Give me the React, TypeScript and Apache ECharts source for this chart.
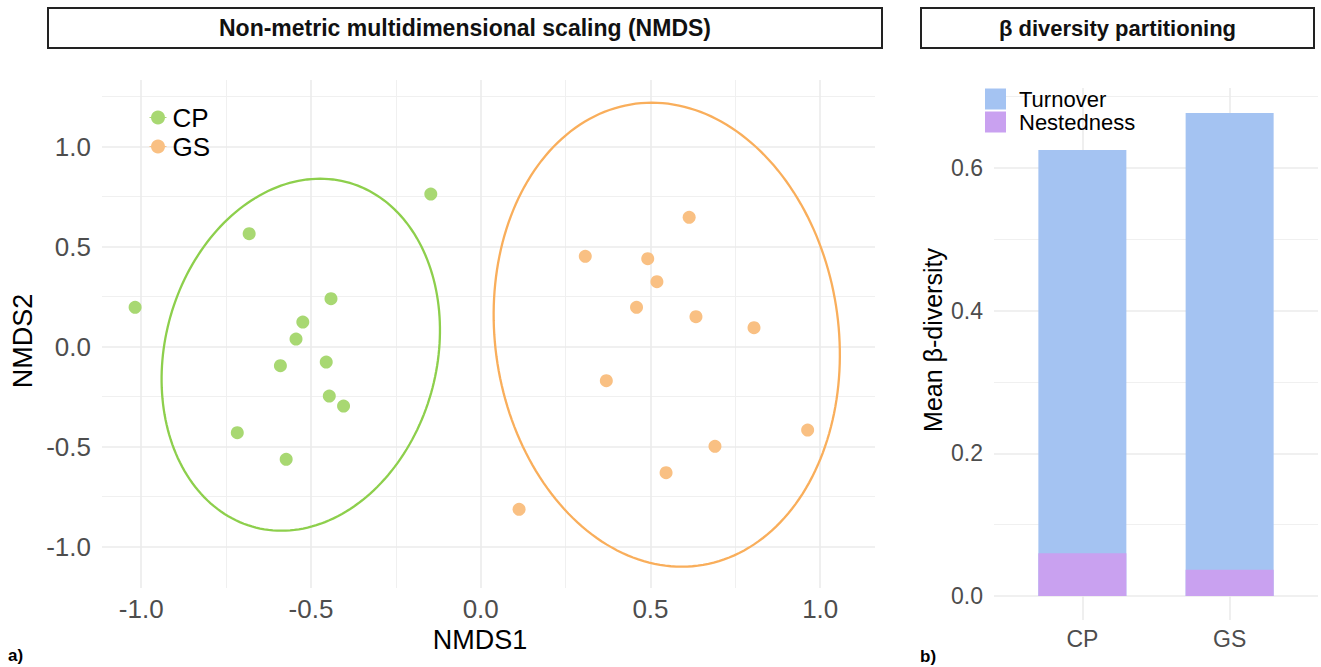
import React, { useEffect, useRef } from 'react';
import * as echarts from 'echarts';

// ---------- NMDS data ----------
const cpPoints: [number, number][] = [
  [-1.018, 0.197], [-0.682, 0.565], [-0.147, 0.763], [-0.441, 0.24],
  [-0.524, 0.123], [-0.544, 0.038], [-0.59, -0.095], [-0.455, -0.077],
  [-0.446, -0.247], [-0.404, -0.297], [-0.717, -0.43], [-0.573, -0.563],
];
const gsPoints: [number, number][] = [
  [0.614, 0.647], [0.308, 0.452], [0.492, 0.44], [0.519, 0.325],
  [0.459, 0.197], [0.634, 0.15], [0.805, 0.095], [0.37, -0.17],
  [0.963, -0.417], [0.69, -0.498], [0.546, -0.63], [0.113, -0.813],
];
// ellipse: centre x, centre y, conjugate semi-diameter A (x, y), B (x, y)
const cpEllipse = [-0.53, -0.04, 0.406, 0, 0.057, 0.88];
const gsEllipse = [0.548, 0.06, 0.508, 0, -0.044, 1.16];

const nmdsMajorTicks = [-1, -0.5, 0, 0.5, 1];
const nmdsMinorX = [-0.75, -0.25, 0.25, 0.75];
const nmdsMinorY = [-0.75, -0.25, 0.25, 0.75, 1.25];

// ---------- beta diversity data ----------
const betaGroups = ['CP', 'GS'];
const turnover = [0.565, 0.64];
const nestedness = [0.06, 0.037];
const betaMajorTicks = [0, 0.2, 0.4, 0.6];
const betaMinorTicks = [0.1, 0.3, 0.5, 0.7];
const betaXTicks = [1, 2];

const FONT = "'Liberation Sans', Arial, sans-serif";
const GREEN_PT = '#A8D872';
const GREEN_LN = '#8DCF4C';
const ORANGE_PT = '#F9C083';
const ORANGE_LN = '#F9AE5B';
const BLUE = '#A4C3F2';
const PURPLE = '#C9A1F0';
const GRID_MAJOR = { color: '#EBEBEB', width: 1.6, type: 'solid' as const };
const GRID_MINOR = { color: '#F0F0F0', width: 1.1, type: 'solid' as const };

function gridLines(xs: number[], ys: number[], style: any) {
  return [
    ...xs.map((v) => ({ xAxis: v, lineStyle: style })),
    ...ys.map((v) => ({ yAxis: v, lineStyle: style })),
  ];
}

function ellipseRender(color: string) {
  return (params: any, api: any) => {
    const cx = api.value(0), cy = api.value(1);
    const ax = api.value(2), ay = api.value(3);
    const bx = api.value(4), by = api.value(5);
    const c = api.coord([cx, cy]);
    const pa = api.coord([cx + ax, cy + ay]);
    const pb = api.coord([cx + bx, cy + by]);
    const ux = pa[0] - c[0], uy = pa[1] - c[1];
    const vx = pb[0] - c[0], vy = pb[1] - c[1];
    const pts: number[][] = [];
    const n = 200;
    for (let i = 0; i < n; i++) {
      const t = (i / n) * Math.PI * 2;
      pts.push([
        c[0] + ux * Math.cos(t) + vx * Math.sin(t),
        c[1] + uy * Math.cos(t) + vy * Math.sin(t),
      ]);
    }
    return {
      type: 'polygon',
      shape: { points: pts },
      style: { fill: 'none', stroke: color, lineWidth: 2.3 },
    };
  };
}

const legendIcon = 'path://M0,6.4H17V7.6H0Z M8.5,0A7,7 0 1 1 8.49,0Z';

export default function App() {
  const ref = useRef<HTMLDivElement>(null);

  useEffect(() => {
    document.body.style.margin = '0';
    const chart = echarts.init(ref.current!, undefined, { renderer: 'svg' });
    const totals = turnover.map((v, i) => v + nestedness[i]);
    const option: any = {
      animation: false,
      backgroundColor: '#ffffff',
      textStyle: { fontFamily: FONT },
      grid: [
        { left: 102, top: 80, width: 773, height: 508 },
        { left: 994, top: 88, width: 324, height: 532 },
      ],
      xAxis: [
        {
          type: 'value', gridIndex: 0, min: -1.1155, max: 1.1614,
          axisLine: { show: false }, axisTick: { show: false }, splitLine: { show: false },
          axisLabel: {
            customValues: nmdsMajorTicks, formatter: (v: number) => v.toFixed(1),
            color: '#4D4D4D', fontSize: 26, margin: 8, fontFamily: FONT,
          },
        },
        {
          type: 'value', gridIndex: 1, min: 0.4, max: 2.6,
          axisLine: { show: false }, axisTick: { show: false }, splitLine: { show: false },
          axisLabel: {
            customValues: betaXTicks, formatter: (v: number) => betaGroups[Math.round(v) - 1] || '',
            color: '#4D4D4D', fontSize: 23, margin: 7, fontFamily: FONT,
          },
        },
      ],
      yAxis: [
        {
          type: 'value', gridIndex: 0, min: -1.2065, max: 1.3335,
          axisLine: { show: false }, axisTick: { show: false }, splitLine: { show: false },
          axisLabel: {
            customValues: nmdsMajorTicks, formatter: (v: number) => v.toFixed(1),
            color: '#4D4D4D', fontSize: 26, margin: 11, fontFamily: FONT,
          },
        },
        {
          type: 'value', gridIndex: 1, min: -0.0336, max: 0.712,
          axisLine: { show: false }, axisTick: { show: false }, splitLine: { show: false },
          axisLabel: {
            customValues: betaMajorTicks, formatter: (v: number) => v.toFixed(1),
            color: '#4D4D4D', fontSize: 23, margin: 11, fontFamily: FONT,
          },
        },
      ],
      legend: [
        {
          orient: 'vertical', left: 144.5, top: 99, itemWidth: 17, itemHeight: 14, itemGap: 2,
          data: [
            { name: 'CP', icon: legendIcon, itemStyle: { color: GREEN_PT } },
            { name: 'GS', icon: legendIcon, itemStyle: { color: ORANGE_PT } },
          ],
          textStyle: { fontSize: 26, lineHeight: 27, color: '#000', fontFamily: FONT, padding: [0, 0, 0, 1] },
          selectedMode: false,
        },
        {
          orient: 'vertical', left: 980, top: 83, itemWidth: 21, itemHeight: 21, itemGap: 1,
          data: [
            { name: 'Turnover', icon: 'rect', itemStyle: { color: BLUE } },
            { name: 'Nestedness', icon: 'rect', itemStyle: { color: PURPLE } },
          ],
          textStyle: { fontSize: 22, lineHeight: 22, color: '#000', fontFamily: FONT, padding: [0, 0, 0, 8] },
          selectedMode: false,
        },
      ],
      series: [
        {
          type: 'scatter', name: 'grid-nmds', xAxisIndex: 0, yAxisIndex: 0, data: [], z: 0,
          silent: true,
          markLine: {
            silent: true, z: 0, symbol: ['none', 'none'], label: { show: false }, animation: false,
            data: [
              ...gridLines(nmdsMinorX, nmdsMinorY, GRID_MINOR),
              ...gridLines(nmdsMajorTicks, nmdsMajorTicks, GRID_MAJOR),
            ],
          },
        },
        {
          type: 'scatter', name: 'grid-beta', xAxisIndex: 1, yAxisIndex: 1, data: [], z: 0,
          silent: true,
          markLine: {
            silent: true, z: 0, symbol: ['none', 'none'], label: { show: false }, animation: false,
            data: [
              ...gridLines([], betaMinorTicks, GRID_MINOR),
              ...gridLines(betaXTicks, betaMajorTicks, GRID_MAJOR),
            ],
          },
        },
        {
          type: 'scatter', name: 'CP', xAxisIndex: 0, yAxisIndex: 0, data: cpPoints,
          symbolSize: 13, itemStyle: { color: GREEN_PT, opacity: 1 }, z: 3,
        },
        {
          type: 'scatter', name: 'GS', xAxisIndex: 0, yAxisIndex: 0, data: gsPoints,
          symbolSize: 13, itemStyle: { color: ORANGE_PT, opacity: 1 }, z: 3,
        },
        {
          type: 'custom', name: 'CP', xAxisIndex: 0, yAxisIndex: 0, data: [cpEllipse],
          encode: { x: 0, y: 1 }, renderItem: ellipseRender(GREEN_LN), z: 2, silent: true,
          itemStyle: { color: GREEN_LN },
        },
        {
          type: 'custom', name: 'GS', xAxisIndex: 0, yAxisIndex: 0, data: [gsEllipse],
          encode: { x: 0, y: 1 }, renderItem: ellipseRender(ORANGE_LN), z: 2, silent: true,
          itemStyle: { color: ORANGE_LN },
        },
        {
          type: 'bar', name: 'Turnover', xAxisIndex: 1, yAxisIndex: 1,
          data: totals.map((v, i) => [i + 1, v]), barWidth: 88, barGap: '-100%',
          itemStyle: { color: BLUE }, z: 3,
        },
        {
          type: 'bar', name: 'Nestedness', xAxisIndex: 1, yAxisIndex: 1,
          data: nestedness.map((v, i) => [i + 1, v]), barWidth: 88, barGap: '-100%',
          itemStyle: { color: PURPLE }, z: 4,
        },
      ],
      graphic: [
        {
          type: 'rect', shape: { x: 48, y: 8, width: 834, height: 40 },
          style: { fill: '#fff', stroke: '#222', lineWidth: 2 },
        },
        {
          type: 'text', x: 465, y: 28,
          style: {
            text: 'Non-metric multidimensional scaling (NMDS)', fill: '#111',
            font: `bold 23px ${FONT}`, align: 'center', verticalAlign: 'middle',
          },
        },
        {
          type: 'rect', shape: { x: 921, y: 8, width: 393, height: 40 },
          style: { fill: '#fff', stroke: '#222', lineWidth: 2 },
        },
        {
          type: 'text', x: 1117.5, y: 28,
          style: {
            text: 'β diversity partitioning', fill: '#111',
            font: `bold 22px ${FONT}`, align: 'center', verticalAlign: 'middle',
          },
        },
        {
          type: 'text', x: 480, y: 640,
          style: { text: 'NMDS1', fill: '#000', font: `27px ${FONT}`, align: 'center', verticalAlign: 'middle' },
        },
        {
          type: 'text', x: 23, y: 341, rotation: Math.PI / 2,
          style: { text: 'NMDS2', fill: '#000', font: `27px ${FONT}`, align: 'center', verticalAlign: 'middle' },
        },
        {
          type: 'text', x: 933, y: 340, rotation: Math.PI / 2,
          style: { text: 'Mean β-diversity', fill: '#000', font: `25px ${FONT}`, align: 'center', verticalAlign: 'middle' },
        },
        {
          type: 'text', x: 8, y: 655,
          style: { text: 'a)', fill: '#000', font: `bold 17px ${FONT}`, align: 'left', verticalAlign: 'middle' },
        },
        {
          type: 'text', x: 920, y: 656,
          style: { text: 'b)', fill: '#000', font: `bold 17px ${FONT}`, align: 'left', verticalAlign: 'middle' },
        },
      ],
    };
    chart.setOption(option);
    return () => chart.dispose();
  }, []);

  return (
    <div
      ref={ref}
      style={{ position: 'fixed', left: 0, top: 0, width: 1321, height: 667, background: '#fff' }}
    />
  );
}
